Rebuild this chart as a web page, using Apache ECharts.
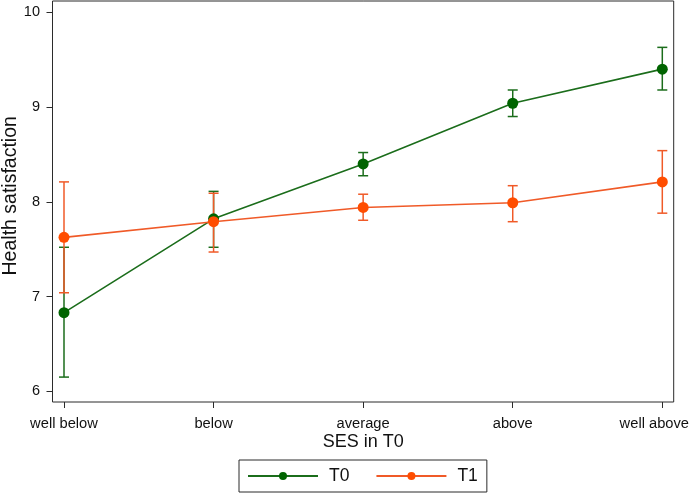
<!DOCTYPE html>
<html><head><meta charset="utf-8">
<script src="https://cdn.jsdelivr.net/npm/echarts@6/dist/echarts.min.js"></script>
<style>html,body{margin:0;padding:0;background:#fff}#c{width:690px;height:495px}</style>
</head><body><div id="c"></div>
<script>
var categories = ['well below', 'below', 'average', 'above', 'well above'];
var yTicks = [6, 7, 8, 9, 10];
var t0Mean = [6.83, 7.82, 8.40, 9.04, 9.40];
var t0Low  = [6.15, 7.52, 8.275, 8.90, 9.18];
var t0High = [7.52, 8.11, 8.52, 9.18, 9.63];
var t1Mean = [7.625, 7.79, 7.94, 7.99, 8.21];
var t1Low  = [7.04, 7.47, 7.805, 7.79, 7.88];
var t1High = [8.21, 8.09, 8.08, 8.17, 8.54];

var FONT = "'Liberation Sans', Arial, sans-serif";
var GREEN = '#006400', GREEN_L = '#1b6d1b';
var ORANGE = '#ff4d00', ORANGE_L = '#f05a28';

function errData(lo, hi) {
  return categories.map(function (c, i) { return [i, lo[i], hi[i]]; });
}
function errRender(color) {
  return function (params, api) {
    var x = api.value(0);
    var p1 = api.coord([x, api.value(1)]);
    var p2 = api.coord([x, api.value(2)]);
    var w = 5;
    var st = { stroke: color, lineWidth: 1.5, fill: 'none' };
    return { type: 'group', children: [
      { type: 'line', shape: { x1: p1[0], y1: p1[1], x2: p2[0], y2: p2[1] }, style: st },
      { type: 'line', shape: { x1: p1[0] - w, y1: p1[1], x2: p1[0] + w, y2: p1[1] }, style: st },
      { type: 'line', shape: { x1: p2[0] - w, y1: p2[1], x2: p2[0] + w, y2: p2[1] }, style: st }
    ]};
  };
}

var chart = echarts.init(document.getElementById('c'));
chart.setOption({
  animation: false,
  textStyle: { fontFamily: FONT },
  grid: [
    { left: 52.5, right: 16.3, top: 1, bottom: 93, show: true, borderColor: '#2b2b2b', borderWidth: 1, backgroundColor: 'transparent', containLabel: false, outerBoundsMode: 'none' },
    { left: 64, right: 27.7, top: 12.3, bottom: 103.7, containLabel: false, outerBoundsMode: 'none' }
  ],
  xAxis: [
    { gridIndex: 0, type: 'value', show: false, min: 0, max: 1 },
    { gridIndex: 1, type: 'category', data: categories, boundaryGap: false, offset: 10.7,
      axisLine: { show: false },
      axisTick: { show: true, length: 6, lineStyle: { color: '#2b2b2b', width: 1 } },
      axisLabel: { margin: 14, fontSize: 14.7, color: '#111', fontFamily: FONT,
        formatter: function (v, i) { return i === categories.length - 1 ? '{last|' + v + '}' : v; },
        rich: { last: { fontSize: 14.7, color: '#111', fontFamily: FONT, padding: [0, 16, 0, 0] } } },
      name: 'SES in T0', nameLocation: 'middle', nameGap: 31, nameMoveOverlap: false,
      nameTextStyle: { fontSize: 18, color: '#111', fontFamily: FONT },
      splitLine: { show: false } }
  ],
  yAxis: [
    { gridIndex: 0, type: 'value', show: false, min: 0, max: 1 },
    { gridIndex: 1, type: 'value', min: yTicks[0], max: yTicks[yTicks.length - 1], interval: 1, offset: 11.5,
      axisLine: { show: false },
      axisTick: { show: true, length: 6, lineStyle: { color: '#2b2b2b', width: 1 } },
      axisLabel: { margin: 12.5, fontSize: 14.5, color: '#111', fontFamily: FONT },
      splitLine: { show: false },
      name: 'Health satisfaction', nameLocation: 'middle', nameGap: 32, nameMoveOverlap: false,
      nameTextStyle: { fontSize: 19.5, color: '#111', fontFamily: FONT, padding: [0, 0, 0, 12] } }
  ],
  legend: {
    data: ['T0', 'T1'], left: 239, top: 460, orient: 'horizontal',
    padding: [7, 9, 7, 8], itemGap: 26, itemWidth: 70, itemHeight: 10,
    borderColor: '#2b2b2b', borderWidth: 1, borderRadius: 0,
    textStyle: { fontSize: 17.5, color: '#111', fontFamily: FONT, padding: [0, 0, 0, 6] }
  },
  series: [
    { type: 'custom', name: 'errT0', xAxisIndex: 1, yAxisIndex: 1, renderItem: errRender(GREEN_L), data: errData(t0Low, t0High), encode: { x: 0, y: [1, 2] } },
    { type: 'line', name: 'T0', xAxisIndex: 1, yAxisIndex: 1, data: t0Mean, symbol: 'circle', symbolSize: 11,
      lineStyle: { color: GREEN_L, width: 1.6 }, itemStyle: { color: GREEN } },
    { type: 'custom', name: 'errT1', xAxisIndex: 1, yAxisIndex: 1, renderItem: errRender(ORANGE_L), data: errData(t1Low, t1High), encode: { x: 0, y: [1, 2] } },
    { type: 'line', name: 'T1', xAxisIndex: 1, yAxisIndex: 1, data: t1Mean, symbol: 'circle', symbolSize: 11,
      lineStyle: { color: ORANGE_L, width: 1.6 }, itemStyle: { color: ORANGE } }
  ]
});
</script></body></html>
